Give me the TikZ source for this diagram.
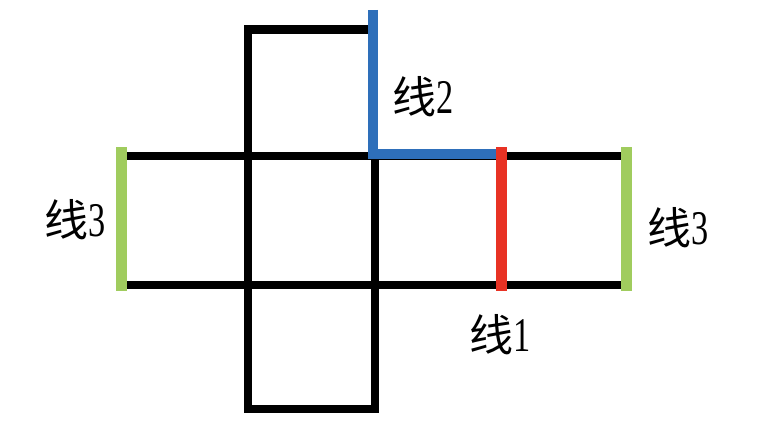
\documentclass[tikz,border=0pt]{standalone}
\usepackage{fontspec}
\setmainfont{Liberation Serif}
\newfontfamily\cjk{Noto Sans CJK SC}
\definecolor{lblue}{RGB}{46,111,186}
\definecolor{lred}{RGB}{232,50,36}
\definecolor{lgreen}{RGB}{160,204,94}
\newcommand{\xian}[1]{{\cjk 线}\scalebox{0.78}[1.1]{#1}}

\tikzset{
    side/.style={ draw=black, line width=8.5pt, line join=miter},
    lineone/.style={ draw=lred, line width=11pt},
    linetwo/.style={ draw=lblue, line width=10pt, line join=miter},
    linethree/.style={ draw=lgreen, line width=11pt},
    lab/.style={ font=\fontsize{44}{44}\selectfont, inner sep=0pt},
  }

\begin{document}
\begin{tikzpicture}[x=1pt, y=-1pt]
\useasboundingbox (0,0) rectangle (757,433);

% corners of the net
  \coordinate (tl) at (248,29.5);
  \coordinate (tr) at (373,29.5);
  \coordinate (ml) at (121,156);
  \coordinate (mr) at (626,156);
  \coordinate (bl) at (121,285);
  \coordinate (br) at (626,285);
  \coordinate (dl) at (248,409);
  \coordinate (dr) at (375,409);
  \coordinate (cm) at (375,156);

% black edges
   \draw[side] (tr) -- (tl) -- (dl) -- (dr) -- (cm);
   \draw[side] (ml) -- (mr);
   \draw[side] (bl) -- (br);

% line 2
   \coordinate (b1) at (373,10);
   \coordinate (b2) at (373,154);
   \coordinate (b3) at (497,154);
   \draw[linetwo] (b1) -- (b2) -- (b3);

% line 1
   \coordinate (r1) at (501,147);
   \coordinate (r2) at (501,291);
   \draw[lineone] (r1) -- (r2);

% line 3, both ends
   \coordinate (g1) at (121,147);
   \coordinate (g2) at (121,291);
   \coordinate (g3) at (626,147);
   \coordinate (g4) at (626,291);
   \draw[linethree] (g1) -- (g2);
   \draw[linethree] (g3) -- (g4);

% labels
   \node[lab] (lab2)  at (423,97)  {\xian{2}};
   \node[lab] (lab3a) at (75,220)  {\xian{3}};
   \node[lab] (lab3b) at (678,228) {\xian{3}};
   \node[lab] (lab1)  at (500,335) {\xian{1}};

\end{tikzpicture}
\end{document}
